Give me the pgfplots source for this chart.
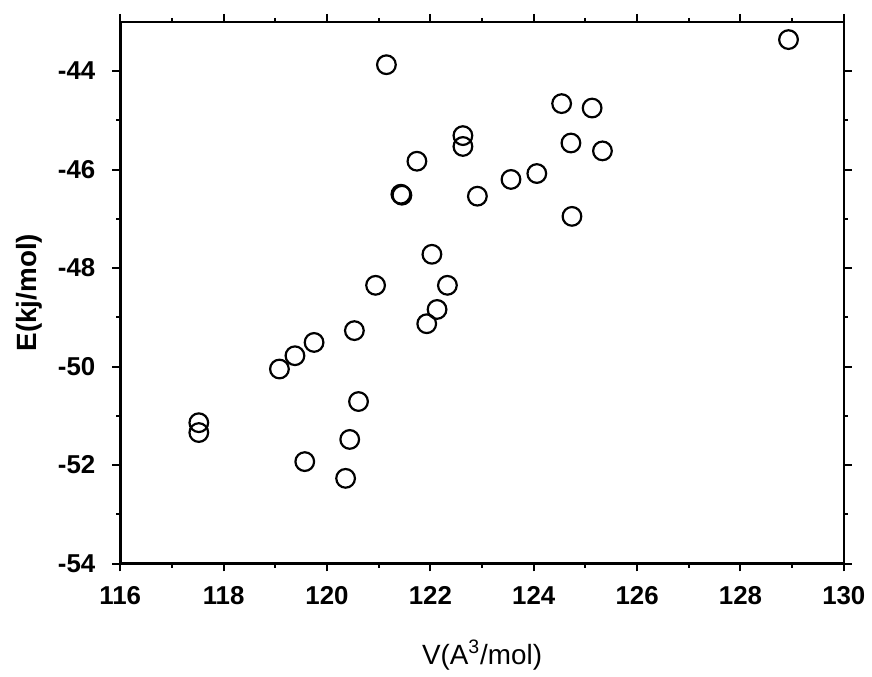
\documentclass[border=0pt]{standalone}
\usepackage{fontspec}
\setmainfont{Liberation Sans}
\usepackage{pgfplots}
\pgfplotsset{compat=1.18}

\begin{document}
\begin{tikzpicture}
\begin{axis}[
    scale only axis,
    width=364pt, height=272.5pt,
    xmin=116, xmax=130,
    ymin=-54, ymax=-43,
    xtick={116,118,...,130},
    ytick={-54,-52,...,-44},
    minor tick num=1,
    tick align=outside,
    major tick length=4pt,
    minor tick length=2pt,
    every tick/.style={black, line width=1pt},
    axis line style={line width=1.3pt},
    tick label style={font=\bfseries\fontsize{13}{15}\selectfont},
    /pgf/number format/assume math mode=true,
    xticklabel style={yshift=-4pt},
    yticklabel style={xshift=-5pt},
    xlabel={V(A\textsuperscript{3}/mol)},
    ylabel={\bfseries E(kj/mol)},
    label style={font=\fontsize{14}{16}\selectfont},
    xlabel style={yshift=-11pt},
    ylabel style={yshift=1pt},
    clip=false,
]
\addplot[only marks, mark=o, mark size=4.7pt,
         mark options={line width=1.1pt, black}] coordinates {
    (117.52,-51.14) (117.52,-51.34)
    (119.08,-50.05) (119.38,-49.78) (119.75,-49.51)
    (120.53,-49.27) (120.61,-50.71) (120.44,-51.48)
    (119.57,-51.93) (120.36,-52.27)
    (121.43,-46.50) (121.45,-46.52)
    (122.91,-46.54) (122.03,-47.72)
    (120.94,-48.35) (122.33,-48.35)
    (122.13,-48.84) (121.93,-49.13)
    (121.15,-43.87) (122.63,-45.31) (122.63,-45.53)
    (121.74,-45.83) (124.54,-44.66) (125.13,-44.75)
    (124.72,-45.46) (125.33,-45.62)
    (123.56,-46.20) (124.06,-46.08) (124.74,-46.95)
    (128.93,-43.36)
};
\end{axis}
\path (current axis.south west) ++(-60.5pt,-56.5pt);
\path (current axis.north east) ++(11.5pt,11pt);
\end{tikzpicture}
\end{document}
